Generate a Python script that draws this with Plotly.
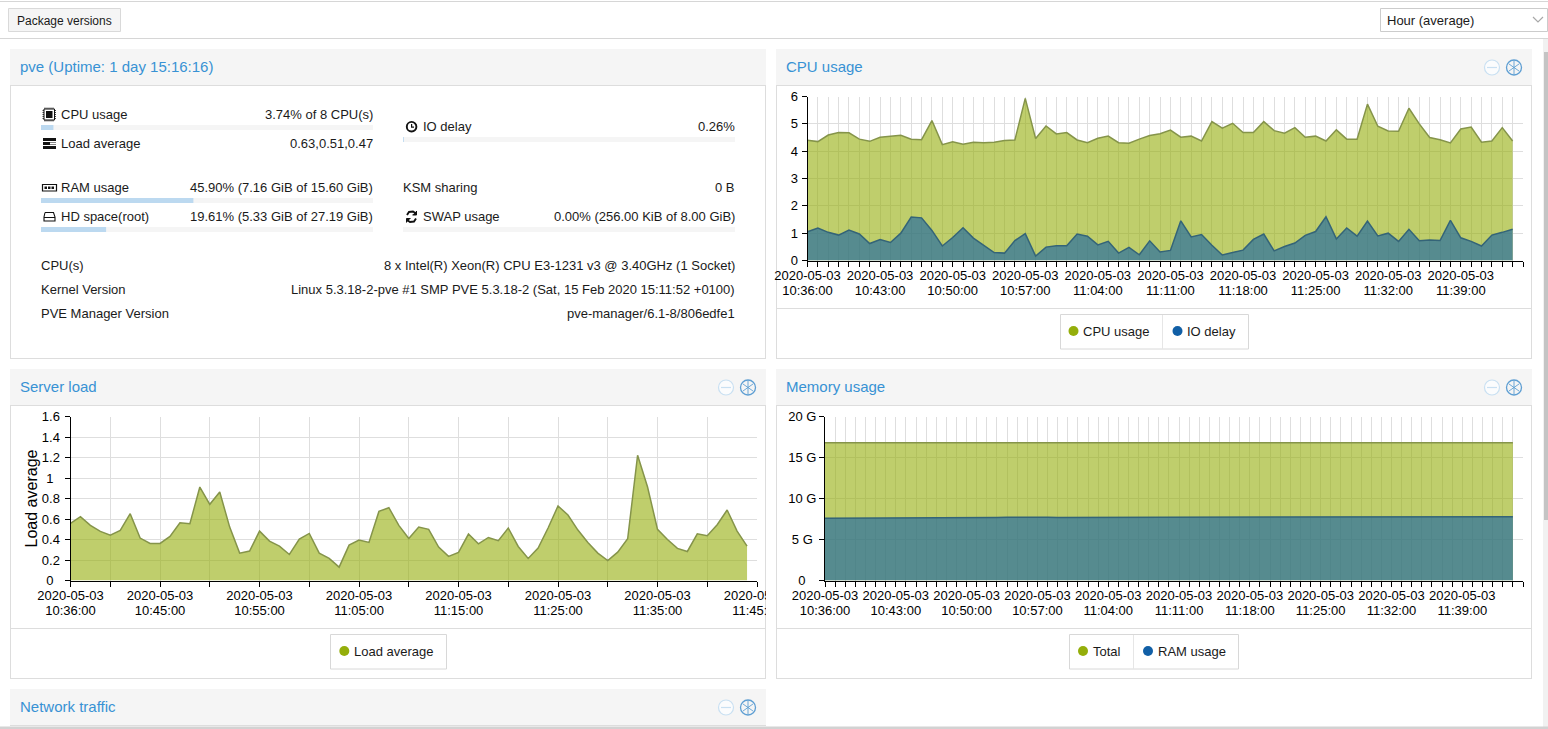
import pandas as pd
import plotly.graph_objects as go

W, H = 1548, 729

# one sample per minute, 10:36 to 11:44
times = pd.date_range("2020-05-03 10:36:00", "2020-05-03 11:44:00", freq="min")
minute_ticks = pd.date_range("2020-05-03 10:36:00", "2020-05-03 11:45:00", freq="min")

cpu_usage = [4.40, 4.35, 4.59, 4.68, 4.67, 4.44, 4.36, 4.51, 4.55, 4.58,
             4.44, 4.42, 5.12, 4.24, 4.34, 4.25, 4.33, 4.31, 4.33, 4.39,
             4.41, 5.93, 4.46, 4.92, 4.63, 4.68, 4.41, 4.31, 4.47, 4.55,
             4.31, 4.29, 4.44, 4.57, 4.64, 4.77, 4.51, 4.55, 4.37, 5.08,
             4.84, 5.02, 4.68, 4.68, 5.08, 4.75, 4.66, 4.86, 4.51, 4.55,
             4.37, 4.78, 4.44, 4.44, 5.72, 4.91, 4.74, 4.73, 5.57, 5.00,
             4.50, 4.42, 4.30, 4.81, 4.88, 4.33, 4.37, 4.86, 4.37]
io_delay = [1.05, 1.19, 1.03, 0.93, 1.11, 0.97, 0.62, 0.77, 0.66, 1.00,
            1.59, 1.56, 1.10, 0.53, 0.84, 1.20, 0.82, 0.54, 0.29, 0.27,
            0.73, 0.98, 0.16, 0.49, 0.54, 0.54, 0.97, 0.89, 0.57, 0.70,
            0.27, 0.48, 0.21, 0.72, 0.31, 0.37, 1.45, 0.86, 0.95, 0.56,
            0.20, 0.29, 0.38, 0.77, 0.97, 0.35, 0.51, 0.64, 0.92, 1.06,
            1.60, 0.79, 1.19, 0.89, 1.44, 0.90, 1.00, 0.70, 1.14, 0.72,
            0.75, 0.73, 1.47, 0.83, 0.70, 0.53, 0.93, 1.03, 1.14]
load_average = [0.557, 0.622, 0.538, 0.479, 0.443, 0.489, 0.652, 0.414, 0.362, 0.362,
                0.430, 0.564, 0.554, 0.912, 0.743, 0.863, 0.521, 0.267, 0.287, 0.482,
                0.384, 0.336, 0.254, 0.404, 0.459, 0.267, 0.215, 0.130, 0.345, 0.394,
                0.371, 0.674, 0.710, 0.538, 0.410, 0.521, 0.499, 0.326, 0.235, 0.274,
                0.453, 0.358, 0.420, 0.388, 0.512, 0.332, 0.215, 0.316, 0.512, 0.727,
                0.639, 0.492, 0.371, 0.267, 0.195, 0.277, 0.407, 1.222, 0.912, 0.499,
                0.400, 0.313, 0.283, 0.456, 0.437, 0.544, 0.688, 0.482, 0.336]
mem_total = [16.8] * 69
ram_usage = [7.60, 7.60, 7.60, 7.62, 7.63, 7.64, 7.65, 7.66, 7.68, 7.68,
             7.69, 7.69, 7.69, 7.69, 7.68, 7.68, 7.69, 7.69, 7.70, 7.72,
             7.72, 7.70, 7.70, 7.69, 7.69, 7.69, 7.69, 7.70, 7.71, 7.71,
             7.71, 7.71, 7.71, 7.71, 7.71, 7.71, 7.70, 7.70, 7.71, 7.71,
             7.72, 7.72, 7.74, 7.74, 7.75, 7.75, 7.75, 7.75, 7.75, 7.75,
             7.75, 7.75, 7.75, 7.75, 7.74, 7.73, 7.73, 7.73, 7.74, 7.74,
             7.75, 7.75, 7.75, 7.76, 7.77, 7.78, 7.78, 7.78, 7.78]

# labelled ticks
week_labels = ["10:36", "10:43", "10:50", "10:57", "11:04", "11:11", "11:18", "11:25", "11:32", "11:39"]
load_labels = ["10:36", "10:45", "10:55", "11:05", "11:15", "11:25", "11:35", "11:45"]
load_tick_minutes = ["10:36", "10:40", "10:45", "10:50", "10:55", "11:00", "11:05", "11:10", "11:15",
                     "11:20", "11:25", "11:30", "11:35", "11:40", "11:45"]
cpu_y_ticks = [0, 1, 2, 3, 4, 5, 6]
load_y_ticks = [0, 0.2, 0.4, 0.6, 0.8, 1, 1.2, 1.4, 1.6]
# the original centres its value labels, so the short ones get trailing spaces
load_y_text = ["0\u2002", "0.2", "0.4", "0.6", "0.8", "1\u2002", "1.2", "1.4", "1.6"]
mem_y_ticks = [0, 5, 10, 15, 20]
mem_y_text = ["0\u00a0\u00a0\u00a0", "5 G\u00a0", "10 G", "15 G", "20 G"]

OLIVE = "#94ae0a"
BLUE = "#115fa6"
OLIVE_FILL = "rgba(148,174,10,0.6)"
BLUE_FILL = "rgba(17,95,166,0.6)"
OLIVE_LINE = "rgb(133,148,74)"
BLUE_LINE = "rgb(52,100,120)"
BORDER = "#dddddd"
GRID = "#dedede"
HEAD_BG = "#f5f5f5"
TITLE = "#3892d4"
FONT = "Liberation Sans"
TEXT = "#1a1a1a"


def fx(x):
    return x / W


def fy(y):
    return 1 - y / H


shapes = []
notes = []


def rect(x0, y0, x1, y1, fill=None, line=None, lw=1, layer="below"):
    shapes.append(dict(type="rect", xref="paper", yref="paper", x0=fx(x0), x1=fx(x1), y0=fy(y0), y1=fy(y1),
                       fillcolor=fill or "rgba(0,0,0,0)", line=dict(color=line or "rgba(0,0,0,0)", width=lw if line else 0),
                       layer=layer))


def hline(x0, x1, y, color=BORDER, lw=1):
    shapes.append(dict(type="line", xref="paper", yref="paper", x0=fx(x0), x1=fx(x1), y0=fy(y), y1=fy(y),
                       line=dict(color=color, width=lw), layer="below"))


def vline(x, y0, y1, color=BORDER, lw=1, layer="below"):
    shapes.append(dict(type="line", xref="paper", yref="paper", x0=fx(x), x1=fx(x), y0=fy(y0), y1=fy(y1),
                       line=dict(color=color, width=lw), layer=layer))


def circle(cx, cy, r, fill=None, line=None, lw=1):
    shapes.append(dict(type="circle", xref="paper", yref="paper", x0=fx(cx - r), x1=fx(cx + r),
                       y0=fy(cy - r), y1=fy(cy + r), fillcolor=fill or "rgba(0,0,0,0)",
                       line=dict(color=line or "rgba(0,0,0,0)", width=lw if line else 0), layer="below"))


def icon(pts, color="#111", lw=1.2, fill=None):
    # small polyline given in page pixels
    path = "M" + " L".join(f"{fx(x):.6f},{fy(y):.6f}" for x, y in pts)
    shapes.append(dict(type="path", xref="paper", yref="paper", path=path,
                       line=dict(color=color, width=lw), fillcolor=fill or "rgba(0,0,0,0)", layer="below"))


def text(x, y, s, size=13, color=TEXT, anchor="left"):
    notes.append(dict(xref="paper", yref="paper", x=fx(x), y=fy(y), text=s, showarrow=False,
                      xanchor=anchor, yanchor="middle", borderpad=0, borderwidth=0,
                      font=dict(size=size, color=color, family=FONT)))


def panel(x0, x1, head_y, body_y, bottom, title, tools=True):
    rect(x0, head_y, x1, body_y, fill=HEAD_BG)
    hline(x0, x1, body_y + 0.5)
    if bottom is not None:
        vline(x0 + 0.5, body_y, bottom)
        vline(x1 - 0.5, body_y, bottom)
        hline(x0, x1, bottom - 0.5)
    text(x0 + 10, (head_y + body_y) / 2 - 0.4, title, size=15, color=TITLE)
    if tools:
        cy = (head_y + body_y) / 2 + 0.5
        circle(x1 - 40, cy, 7.5, fill="#fbfcfd", line="#c9e0f2", lw=1.2)
        hline(x1 - 45, x1 - 35, cy, color="#c9e0f2", lw=1.2)
        circle(x1 - 18, cy, 7.5, line="#5f9fd3", lw=1.3)
        icon([(x1 - 23, cy - 3.5), (x1 - 13, cy + 3.5)], color="#5f9fd3", lw=0.9)
        icon([(x1 - 13, cy - 3.5), (x1 - 23, cy + 3.5)], color="#5f9fd3", lw=0.9)
        vline(x1 - 18, cy - 7, cy + 7, color="#5f9fd3", lw=0.9)


def legend(x0, x1, y0, items, divider=None):
    rect(x0 + 0.5, y0 + 0.5, x1 - 0.5, y0 + 35, line="#d8d8d8", fill="#ffffff")
    if divider:
        vline(divider, y0 + 1, y0 + 35, color="#e6e6e6")
    for dot_x, color, label in items:
        circle(dot_x, y0 + 17, 5, fill=color)
        text(dot_x + 9.7, y0 + 17.5, label)


# page chrome
hline(0, W, 1.5, color="#d6d6d6")
hline(0, W, 38.5, color="#d6d6d6")
rect(8.5, 8.5, 120.5, 31.5, fill=HEAD_BG, line="#d9d9d9")
text(64.5, 20.5, "Package versions", size=12, anchor="center")
rect(1380.5, 8.5, 1547.5, 31.5, fill="#ffffff", line="#cccccc")
text(1387, 20.5, "Hour (average)")
icon([(1533, 17), (1538, 22), (1543, 17)], color="#a8a8a8", lw=1.2)

panel(10, 766, 49, 85, 359, "pve (Uptime: 1 day 15:16:16)", tools=False)
panel(776, 1532, 49, 85, 359, "CPU usage")
panel(10, 766, 369, 405, 679, "Server load")
panel(776, 1532, 369, 405, 679, "Memory usage")
panel(10, 766, 689, 725, None, "Network traffic")
hline(10, 766, 725.5)

# legend strips
hline(776, 1532, 308.5)
hline(10, 766, 628.5)
hline(776, 1532, 628.5)
legend(1060, 1249, 314, [(1073.5, OLIVE, "CPU usage"), (1177.5, BLUE, "IO delay")], divider=1162.5)
legend(330, 447, 634, [(344.3, OLIVE, "Load average")])
legend(1069, 1239, 634, [(1083, OLIVE, "Total"), (1148, BLUE, "RAM usage")], divider=1133.5)

# node status panel
BAR_BG = "#f5f5f5"
BAR_FILL = "#bcd9f0"


def status_row(x0, x1, y, label, value, label_x=None, bar_y=None, used=None):
    text(label_x or x0, y, label)
    text(x1, y, value, anchor="right")
    if bar_y is not None:
        rect(x0, bar_y, x1, bar_y + 5, fill=BAR_BG)
        rect(x0, bar_y, x0 + (x1 - x0) * used, bar_y + 5, fill=BAR_FILL)


status_row(41, 373, 114.7, "CPU usage", "3.74% of 8 CPU(s)", 61, 125, 0.0374)
status_row(41, 373, 143.7, "Load average", "0.63,0.51,0.47", 61)
status_row(41, 373, 187.7, "RAM usage", "45.90% (7.16 GiB of 15.60 GiB)", 61, 198, 0.459)
status_row(41, 373, 216.7, "HD space(root)", "19.61% (5.33 GiB of 27.19 GiB)", 61, 227, 0.1961)
status_row(403, 735, 126.7, "IO delay", "0.26%", 423, 137, 0.0026)
status_row(403, 735, 187.7, "KSM sharing", "0 B")
status_row(403, 735, 216.7, "SWAP usage", "0.00% (256.00 KiB of 8.00 GiB)", 423, 227, 0.0)
for y, label, value in [(265.7, "CPU(s)", "8 x Intel(R) Xeon(R) CPU E3-1231 v3 @ 3.40GHz (1 Socket)"),
                        (289.7, "Kernel Version", "Linux 5.3.18-2-pve #1 SMP PVE 5.3.18-2 (Sat, 15 Feb 2020 15:11:52 +0100)"),
                        (313.7, "PVE Manager Version", "pve-manager/6.1-8/806edfe1")]:
    text(41, y, label)
    text(735, y, value, anchor="right")

# status icons
rect(44, 109, 54.5, 120, line="#111", lw=1)
rect(46, 111, 52.5, 118, fill="#111")
for i in range(5):
    vline(45 + 2 * i, 107.5, 109, color="#111", lw=0.8)
    vline(45 + 2 * i, 120, 121.5, color="#111", lw=0.8)
    hline(42.5, 44, 110.5 + 2 * i, color="#111", lw=0.8)
    hline(54.5, 56, 110.5 + 2 * i, color="#111", lw=0.8)
for y0 in (138, 142, 146):
    rect(43, y0, 56, y0 + 3, fill="#111")
rect(50, 142.5, 56, 144.5, fill="#ffffff")
rect(42.5, 184.5, 56.5, 191, line="#111", lw=1.2)
for x0 in (44.5, 48, 51.5):
    rect(x0, 186.5, x0 + 2.5, 189, fill="#111")
icon([(45, 212.5), (53.5, 212.5), (55, 217), (55, 221), (44, 221), (44, 217), (45, 212.5)], lw=1.1)
hline(44, 55, 217.5, color="#111", lw=1)
circle(411.6, 126.7, 4.8, line="#111", lw=1.9)
icon([(411.6, 124), (411.6, 127.2), (414, 127.2)], lw=1.2)
icon([(407, 215), (409, 212), (413, 211.5), (416, 213.5)], lw=1.9)
icon([(416.5, 211), (416.5, 215), (412.5, 215)], lw=1, fill="#111")
icon([(416, 218.5), (414, 221.5), (410, 222), (407, 220)], lw=1.9)
icon([(406.5, 222.5), (406.5, 218.5), (410.5, 218.5)], lw=1, fill="#111")

# scrollbar and bottom bar
rect(1543, 39, W, 729, fill="#f1f1f1")
rect(1544, 52, W, 520, fill="#c4c4c4")
rect(0, 726.5, W, 729, fill="#d2d2d2", layer="above")
# the last load label is cut off by the panel edge
rect(766, 584, 792, 622, fill="#ffffff", layer="above")
vline(776.5, 405, 679, layer="above")


def minute_axis(labels, ticks, x0, x1):
    # date row of the two line tick labels, plus the grid and ticks
    tick_text = [t.strftime("%Y-%m-%d") if t.strftime("%H:%M") in labels else "" for t in ticks]
    return dict(domain=[fx(x0), fx(x1)], range=[minute_ticks[0], minute_ticks[-1]], type="date",
                tickmode="array", tickvals=list(ticks), ticktext=tick_text, tickangle=0, automargin=False,
                showgrid=True, gridcolor=GRID, gridwidth=1, zeroline=False, showline=True, linecolor="#000",
                linewidth=1, ticks="outside", ticklen=5, tickcolor="#000", tickwidth=1, ticklabelstandoff=-2,
                tickfont=dict(size=13, color="#000", family=FONT), layer="above traces")


def time_row_axis(labels, ticks, x0, x1, over, anchor):
    # second row of the tick labels; plotly's own <br> spacing is wider than the original
    tick_vals = [t for t in ticks if t.strftime("%H:%M") in labels]
    return dict(domain=[fx(x0), fx(x1)], range=[minute_ticks[0], minute_ticks[-1]], type="date",
                overlaying=over, anchor=anchor, side="bottom",
                tickmode="array", tickvals=tick_vals, ticktext=[t.strftime("%H:%M:%S") for t in tick_vals],
                tickangle=0, automargin=False, showgrid=False, zeroline=False, showline=False,
                ticks="outside", ticklen=5, tickcolor="rgba(0,0,0,0)", ticklabelstandoff=13,
                tickfont=dict(size=13, color="#000", family=FONT))


def value_axis(vals, tick_text, rng, y0, y1, standoff, **extra):
    return dict(domain=[fy(y1), fy(y0)], range=rng, tickmode="array", tickvals=vals, ticktext=tick_text,
                automargin=False, showgrid=True, gridcolor=GRID, gridwidth=1, zeroline=False, showline=True,
                linecolor="#000", linewidth=1, ticks="outside", ticklen=5, tickcolor="#000", tickwidth=1,
                ticklabelstandoff=standoff, tickfont=dict(size=13, color="#000", family=FONT), **extra)


def area(x, y, fill, line, xa, ya, name):
    return go.Scatter(x=x, y=y, mode="lines", name=name, fill="tozeroy", fillcolor=fill,
                      line=dict(color=line, width=1.5), xaxis=xa, yaxis=ya, showlegend=False, hoverinfo="skip")


def row_holder(y, xa, ya):
    # an axis needs a trace to be drawn at all
    return go.Scatter(x=times, y=y, mode="lines", line=dict(width=0), opacity=0, xaxis=xa, yaxis=ya,
                      showlegend=False, hoverinfo="skip")


fig = go.Figure()
fig.add_trace(area(times, cpu_usage, OLIVE_FILL, OLIVE_LINE, "x", "y", "CPU usage"))
fig.add_trace(area(times, io_delay, BLUE_FILL, BLUE_LINE, "x", "y", "IO delay"))
fig.add_trace(area(times, load_average, OLIVE_FILL, OLIVE_LINE, "x2", "y2", "Load average"))
fig.add_trace(area(times, mem_total, OLIVE_FILL, OLIVE_LINE, "x3", "y3", "Total"))
fig.add_trace(area(times, ram_usage, BLUE_FILL, BLUE_LINE, "x3", "y3", "RAM usage"))
fig.add_trace(row_holder(cpu_usage, "x4", "y"))
fig.add_trace(row_holder(load_average, "x5", "y2"))
fig.add_trace(row_holder(mem_total, "x6", "y3"))

load_ticks = [pd.Timestamp(f"2020-05-03 {m}:00") for m in load_tick_minutes]

fig.update_layout(
    template="none",
    width=W, height=H, autosize=False, margin=dict(l=0, r=0, t=0, b=0, pad=0),
    paper_bgcolor="#ffffff", plot_bgcolor="rgba(0,0,0,0)", showlegend=False,
    font=dict(family=FONT, size=13, color=TEXT),
    shapes=shapes, annotations=notes,
    xaxis=minute_axis(week_labels, minute_ticks, 807.5, 1523),
    yaxis=value_axis(cpu_y_ticks, [str(v) for v in cpu_y_ticks], [0, 6], 96.5, 260.5, 1, anchor="x"),
    xaxis2=dict(minute_axis(load_labels, load_ticks, 70.5, 757), anchor="y2"),
    yaxis2=value_axis(load_y_ticks, load_y_text, [0, 1.6], 416.5, 580.5, 2, anchor="x2",
                      title=dict(text="Load average", font=dict(size=16, color="#000", family=FONT), standoff=0)),
    xaxis3=dict(minute_axis(week_labels, minute_ticks, 825, 1523), anchor="y3"),
    yaxis3=value_axis(mem_y_ticks, mem_y_text, [0, 20], 416.5, 580.5, 0, anchor="x3"),
    xaxis4=time_row_axis(week_labels, minute_ticks, 807.5, 1523, "x", "y"),
    xaxis5=time_row_axis(load_labels, load_ticks, 70.5, 757, "x2", "y2"),
    xaxis6=time_row_axis(week_labels, minute_ticks, 825, 1523, "x3", "y3"),
)

fig.write_html("out.html", config={"displayModeBar": False},
               post_script="document.body.style.margin='0';document.body.style.overflow='hidden';")
